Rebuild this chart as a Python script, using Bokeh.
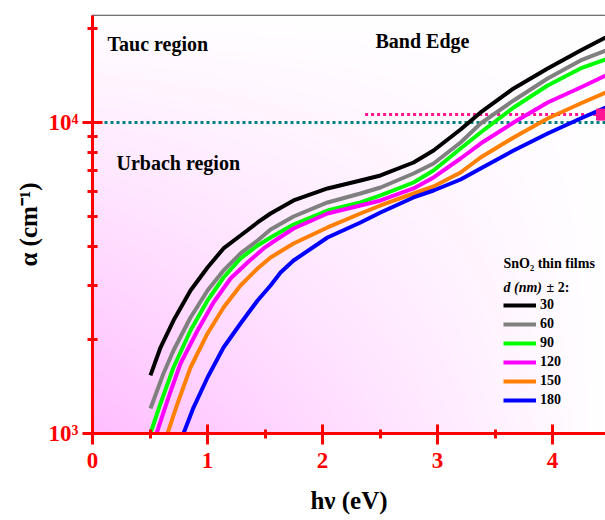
import numpy as np
from bokeh.plotting import figure
from bokeh.models import Range1d, FixedTicker, Label, Legend
from bokeh.embed import file_html
from bokeh.resources import INLINE

# ---- data ----
x_30 = [0.504, 0.591, 0.704, 0.852, 1.000, 1.139, 1.287, 1.435, 1.548, 1.748, 2.043, 2.330, 2.504, 2.791, 2.965, 3.200, 3.374, 3.661, 3.957, 4.243, 4.461]
y_30 = [1537, 1890, 2308, 2883, 3419, 3935, 4332, 4770, 5097, 5614, 6135, 6509, 6755, 7436, 8128, 9495, 10769, 12863, 14920, 17040, 18760]

x_60 = [0.504, 0.617, 0.704, 0.852, 1.000, 1.139, 1.287, 1.435, 1.548, 1.748, 2.043, 2.330, 2.504, 2.791, 2.965, 3.200, 3.374, 3.661, 3.957, 4.243, 4.461]
y_60 = [1203, 1560, 1849, 2360, 2883, 3343, 3792, 4174, 4529, 4986, 5532, 5911, 6180, 6855, 7383, 8625, 9926, 11770, 13850, 15826, 17040]

x_90 = [0.504, 0.591, 0.704, 0.852, 1.000, 1.139, 1.287, 1.435, 1.548, 1.748, 2.043, 2.330, 2.504, 2.791, 2.965, 3.200, 3.374, 3.661, 3.957, 4.243, 4.461]
y_90 = [1000, 1249, 1630, 2144, 2677, 3174, 3653, 4022, 4268, 4699, 5212, 5532, 5825, 6413, 7008, 8249, 9286, 11175, 13150, 14920, 15944]

x_120 = [0.557, 0.652, 0.765, 0.913, 1.052, 1.200, 1.348, 1.487, 1.548, 1.748, 2.043, 2.330, 2.504, 2.791, 2.965, 3.200, 3.374, 3.661, 3.957, 4.243, 4.461]
y_120 = [1000, 1277, 1679, 2144, 2637, 3150, 3547, 3935, 4082, 4563, 5097, 5409, 5614, 6135, 6656, 7659, 8557, 10000, 11596, 12960, 14160]

x_150 = [0.652, 0.739, 0.852, 1.000, 1.139, 1.287, 1.435, 1.548, 1.748, 2.043, 2.330, 2.504, 2.791, 2.965, 3.200, 3.374, 3.661, 3.957, 4.243, 4.461]
y_150 = [1000, 1249, 1630, 2097, 2542, 2991, 3393, 3681, 4082, 4597, 5097, 5409, 5911, 6226, 6906, 7717, 8948, 10301, 11510, 12490]

x_180 = [0.791, 0.878, 1.000, 1.139, 1.287, 1.435, 1.548, 1.635, 1.748, 2.043, 2.330, 2.504, 2.791, 2.965, 3.200, 3.374, 3.661, 3.957, 4.243, 4.461]
y_180 = [1000, 1212, 1514, 1890, 2258, 2677, 2991, 3294, 3599, 4268, 4770, 5136, 5740, 6044, 6557, 7113, 8128, 9218, 10301, 11175]

thickness_labels = ["30", "60", "90", "120", "150", "180"]
series_colors = ["#000000", "#808080", "#00FF00", "#FF00FF", "#FF8000", "#0000FF"]

ref_teal_y = 10000
ref_pink_y = 10600
ref_pink_x = [2.37, 4.46]
ref_teal_x = [0.0, 4.46]
marker_x = [4.43]
marker_y = [10600]

x_ticks = [0, 1, 2, 3, 4]
x_minor = [0.5, 1.5, 2.5, 3.5, 4.5]
y_ticks = [1000, 10000]
y_tick_labels = ["10\u00b3", "10\u2074"]
y_minor = [2000, 3000, 4000, 5000, 6000, 7000, 8000, 9000, 20000]

FONT = "Liberation Serif"
RED = "#FF0000"

p = figure(width=605, height=520, y_axis_type="log",
           x_range=Range1d(0, 4.46), y_range=Range1d(1000, 22080),
           output_backend="svg", toolbar_location=None,
           min_border_left=92, min_border_right=0, min_border_top=15, min_border_bottom=87)
p.background_fill_color = "white"
p.border_fill_color = "white"
p.outline_line_color = "#444444"
p.outline_line_width = 1.5
p.xgrid.visible = False
p.ygrid.visible = False

# background gradient (pink at bottom-left fading to white)
N = 200
u = np.linspace(0, 1, N)[None, :]
v = np.linspace(0, 1, N)[:, None]
pk = np.clip((1 - u) * (1 - v), 0, 1)
g = (255 - 65 * pk).astype(np.uint32)
img = np.empty((N, N), dtype=np.uint32)
view = img.view(dtype=np.uint8).reshape((N, N, 4))
view[:, :, 0] = 255
view[:, :, 1] = g
view[:, :, 2] = 255
view[:, :, 3] = 255
p.image_rgba(image=[img], x=0, y=1000, dw=4.46, dh=21080, level="image")

# reference lines
p.line(ref_teal_x, [ref_teal_y, ref_teal_y], line_color="#008080", line_width=3, line_dash="3 3")
p.line(ref_pink_x, [ref_pink_y, ref_pink_y], line_color="#FF1493", line_width=3, line_dash="3 3")

series = [(x_30, y_30), (x_60, y_60), (x_90, y_90), (x_120, y_120), (x_150, y_150), (x_180, y_180)]
items = []
for (xs, ys), lab_, col in zip(series, thickness_labels, series_colors):
    r = p.line(xs, ys, line_color=col, line_width=4, line_join="round")
    items.append((lab_, [r]))

p.scatter(marker_x, marker_y, marker="square", size=11, fill_color="#FF1493", line_color="#FF1493")

legend = Legend(items=items, location=(411, 25))
legend.background_fill_alpha = 0
legend.border_line_color = None
legend.padding = 0
legend.margin = 0
legend.spacing = 3
legend.glyph_width = 33
legend.glyph_height = 16
legend.label_height = 16
legend.label_standoff = 4
legend.label_text_font = FONT
legend.label_text_font_style = "bold"
legend.label_text_font_size = "14px"
legend.label_text_color = "black"
p.add_layout(legend, "center")

# axes
for ax in (p.xaxis[0], p.yaxis[0]):
    ax.axis_line_color = RED
    ax.axis_line_width = 3
    ax.major_tick_line_color = RED
    ax.major_tick_line_width = 3
    ax.minor_tick_line_color = RED
    ax.minor_tick_line_width = 3
    ax.major_label_text_color = RED
    ax.major_label_text_font = FONT
    ax.major_label_text_font_style = "bold"
    ax.major_label_text_font_size = "23px"
    ax.axis_label_text_font = FONT
    ax.axis_label_text_font_style = "bold"
    ax.axis_label_text_font_size = "25px"
    ax.axis_label_text_color = "black"

p.xaxis[0].ticker = FixedTicker(ticks=x_ticks, minor_ticks=x_minor)
p.xaxis[0].major_tick_in = 9
p.xaxis[0].major_tick_out = 11
p.xaxis[0].minor_tick_in = 4
p.xaxis[0].minor_tick_out = 5
p.xaxis[0].major_label_standoff = 8
p.xaxis[0].axis_label = "h\u03bd (eV)"
p.xaxis[0].axis_label_standoff = 16

p.yaxis[0].ticker = FixedTicker(ticks=y_ticks, minor_ticks=y_minor)
p.yaxis[0].major_label_overrides = {t: s for t, s in zip(y_ticks, y_tick_labels)}
p.yaxis[0].major_tick_in = 10
p.yaxis[0].major_tick_out = 10
p.yaxis[0].minor_tick_in = 5
p.yaxis[0].minor_tick_out = 5
p.yaxis[0].major_label_standoff = 4
p.yaxis[0].axis_label = "\u03b1 (cm\u207b\u00b9)"
p.yaxis[0].axis_label_standoff = 4

def lab(text, x, y, size, style="bold", color="black", align="left"):
    p.add_layout(Label(x=x, y=y, x_units="screen", y_units="screen", text=text,
                       text_font=FONT, text_font_style=style, text_font_size=size,
                       text_color=color, text_align=align, text_baseline="middle"))

lab("Tauc region", 15, 390, "20px")
lab("Band Edge", 283, 393, "20px")
lab("Urbach region", 24, 271, "20px")
lab("SnO\u2082 thin films", 411, 170, "14px")
lab("d (nm)", 411, 146, "14px", style="bold italic")
lab("\u00b1 2:", 454, 146, "14px")

open("out.html", "w").write(file_html(p, INLINE))
